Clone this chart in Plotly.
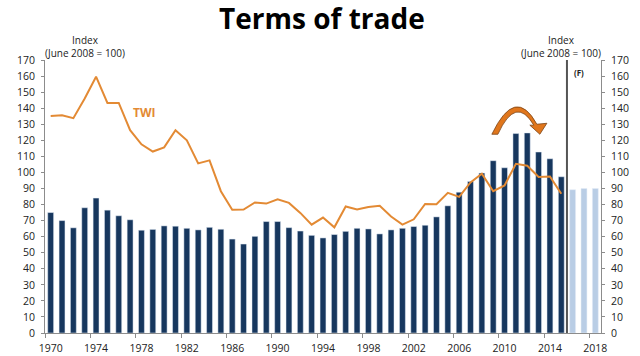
import plotly.graph_objects as go

# ---- data ----
years_hist = list(range(1970, 2016))
tot_hist = [75, 70, 65.5, 78, 84, 76.5, 73, 70.5, 64, 64.5, 66.7, 66.5, 65.2,
            64.2, 65.8, 64.6, 58.5, 55.4, 60.2, 69.4, 69.4, 65.6, 63.5, 60.8,
            59.2, 61.3, 63.3, 65.2, 64.8, 61.7, 64.2, 65.2, 66.3, 67.1, 72.3,
            79.2, 87.7, 94.4, 99.6, 107.3, 102.9, 124.2, 124.6, 112.7, 108.5, 97.3]
years_fcst = [2016, 2017, 2018]
tot_fcst = [89.2, 90, 90]
twi = [135.2, 135.6, 133.8, 146, 159.6, 143.3, 143.3, 126.3, 117.5, 113, 115.6,
       126.3, 120, 105.6, 107.5, 88.3, 76.7, 76.9, 81.3, 80.6, 83.3, 81, 74.8,
       67.5, 71.9, 65.8, 78.8, 76.9, 78.5, 79.2, 72.5, 67.5, 70.8, 80.4, 80.2,
       87.3, 84.8, 93.8, 99.2, 88.3, 91.9, 105.4, 104.2, 97.1, 97.5, 86.7]
xtick_vals = list(range(1970, 2019, 4))
ytick_vals = list(range(0, 171, 10))

NAVY = "#17375E"
LIGHT = "#B9CDE5"
ORANGE = "#E38A34"
TXT = "#222222"
AX = "#8C8C8C"
FONT = "Open Sans"

fig = go.Figure()
fig.add_trace(go.Bar(x=years_hist, y=tot_hist, marker_color=NAVY, width=0.52,
                     showlegend=False, hoverinfo="skip"))
fig.add_trace(go.Bar(x=years_fcst, y=tot_fcst, marker_color=LIGHT, width=0.52,
                     showlegend=False, yaxis="y2", hoverinfo="skip"))
fig.add_trace(go.Scatter(x=years_hist, y=twi, mode="lines",
                         line=dict(color=ORANGE, width=2), showlegend=False,
                         hoverinfo="skip"))

axis_font = dict(family=FONT, size=10.5, color=TXT)
yax = dict(range=[0, 170], tickmode="array", tickvals=ytick_vals,
           ticks="outside", ticklen=3, tickcolor=AX, showgrid=False,
           zeroline=False, showline=True, linecolor=AX, linewidth=1,
           tickfont=axis_font, automargin=False, ticklabelstandoff=4)
fig.update_layout(
    width=640, height=356,
    margin=dict(l=45, r=39, t=60, b=23),
    paper_bgcolor="white", plot_bgcolor="white",
    barmode="overlay",
    font=dict(family=FONT, color=TXT),
    title=dict(text="<b>Terms of trade</b>", x=0.503, xanchor="center",
               y=0.975, yanchor="top",
               font=dict(family=FONT, size=28, color="#000000")),
    xaxis=dict(range=[1969.5, 2018.5], tickmode="array", tickvals=xtick_vals,
               ticks="", showgrid=False, zeroline=False, showline=True,
               linecolor=AX, linewidth=1, tickfont=axis_font, automargin=False,
               ticklabelstandoff=5,
               minor=dict(tick0=1969.5, dtick=4, ticks="outside", ticklen=4,
                          tickcolor=AX, showgrid=False)),
    yaxis=yax,
    yaxis2=dict(yax, overlaying="y", side="right"),
)

# forecast divider
fig.add_shape(type="line", xref="x", yref="y", x0=2015.5, x1=2015.5, y0=0, y1=170,
              line=dict(color="#555555", width=2))

# curved arrow
fig.add_shape(type="path", xref="x", yref="y",
              path=("M 2008.88,123.75 Q 2010.95,154.4 2012.85,130 "
                    "L 2013.73,130.6 L 2013.11,123.75 L 2012.23,129.4 L 2012.58,129.4 "
                    "Q 2011.0,148.4 2009.41,123.75 Z"),
              fillcolor="#E0761C", line=dict(color="#7A4418", width=0.8))

ann_font = dict(family=FONT, size=10, color=TXT)
for xp in (0.072, 0.928):
    fig.add_annotation(xref="paper", yref="paper", x=xp, y=1.0, xanchor="center",
                       yanchor="bottom", yshift=-2, showarrow=False, align="center",
                       text="Index<br>(June 2008 = 100)", font=ann_font)
fig.add_annotation(xref="x", yref="y", x=2016.6, y=162, showarrow=False,
                   text="<b>(F)</b>", font=dict(family=FONT, size=8, color=TXT))
fig.add_annotation(xref="x", yref="y", x=1978.3, y=137.5, showarrow=False,
                   text="<b>TWI</b>", font=dict(family=FONT, size=12, color=ORANGE))

# remove the browser's default 8px page margin so the figure fills the window
fig.write_html("out.html", config={"displayModeBar": False},
               post_script="document.body.style.margin='0';document.body.style.padding='0';")
